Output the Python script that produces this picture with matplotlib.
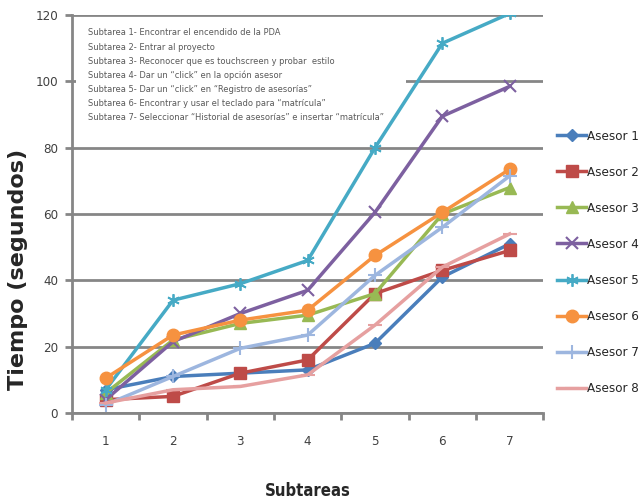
import matplotlib
matplotlib.use("Agg")
import matplotlib.pyplot as plt
from matplotlib.patches import Rectangle
from matplotlib import font_manager

categories = [1, 2, 3, 4, 5, 6, 7]
series_names = ["Asesor 1", "Asesor 2", "Asesor 3", "Asesor 4",
                "Asesor 5", "Asesor 6", "Asesor 7", "Asesor 8"]
asesor1 = [7, 11, 12, 13, 21, 41, 51]
asesor2 = [4, 5, 12, 16, 36, 43, 49]
asesor3 = [6, 22, 27, 29.5, 36, 60, 68]
asesor4 = [4, 21.5, 30, 37, 60.5, 89.5, 98.5]
asesor5 = [7, 34, 39, 46, 80, 111.5, 120.5]
asesor6 = [10.5, 23.5, 28, 31, 47.5, 60.5, 73.5]
asesor7 = [2.5, 11, 19.5, 23.5, 41.5, 56, 71.5]
asesor8 = [3, 7, 8, 11.5, 26.5, 44, 54]
notes = [
    "Subtarea 1- Encontrar el encendido de la PDA",
    "Subtarea 2- Entrar al proyecto",
    "Subtarea 3- Reconocer que es touchscreen y probar  estilo",
    "Subtarea 4- Dar un \u201cclick\u201d en la opción asesor",
    "Subtarea 5- Dar un \u201cclick\u201d en \u201cRegistro de asesorías\u201d",
    "Subtarea 6- Encontrar y usar el teclado para \u201cmatrícula\u201d",
    "Subtarea 7- Seleccionar \u201cHistorial de asesorías\u201d e insertar \u201cmatrícula\u201d",
]
y_ticks = [0, 20, 40, 60, 80, 100, 120]

all_series = [asesor1, asesor2, asesor3, asesor4, asesor5, asesor6, asesor7, asesor8]
colors = ["#4A7EBB", "#BE4B48", "#98B954", "#7D60A0", "#46AAC5", "#F69240", "#9DB6DF", "#E6A0A0"]
markers = ["D", "s", "^", "x", "*", "o", "+", "_"]
msizes = [6, 8, 8, 9, 9, 9, 10, 10]

cond = dict(family="DejaVu Sans", stretch="condensed")

fig = plt.figure(figsize=(6.43, 5.03), dpi=100)
ax = fig.add_axes([0.112, 0.179, 0.733, 0.791])

for vals, name, c, m, ms in zip(all_series, series_names, colors, markers, msizes):
    if m == "*":
        ax.plot(categories, vals, color=c, lw=2.5, marker=(6, 2, 0), ms=ms, mew=1.3,
                label=name, zorder=3)
    else:
        ax.plot(categories, vals, color=c, lw=2.5, marker=m, ms=ms, mew=1.5 if m in "x+_" else 1,
                mfc=c, mec=c, label=name, zorder=3)

ax.set_xlim(0.5, 7.5)
ax.set_ylim(0, 120)
ax.set_yticks(y_ticks)
ax.set_yticklabels([str(v) for v in y_ticks], fontsize=9.5, color="#404040", **cond)
ax.set_xticks([i + 0.5 for i in range(0, 8)])
ax.set_xticklabels([])
ax.set_xticks(categories, minor=True)
ax.set_xticklabels([str(c) for c in categories], minor=True, fontsize=9.5,
                   color="#404040", **cond)
ax.tick_params(axis="x", which="minor", length=0, pad=16)
ax.tick_params(axis="x", which="major", length=5, width=2, color="#868686", direction="out")
ax.tick_params(axis="y", length=5, width=2, color="#868686", direction="out", pad=5)

ax.grid(axis="y", color="#868686", lw=2)
ax.set_axisbelow(True)
for s in ["top", "right"]:
    ax.spines[s].set_visible(False)
for s in ["left", "bottom"]:
    ax.spines[s].set_color("#868686")
    ax.spines[s].set_linewidth(2)

ax.set_ylabel("Tiempo (segundos)", fontsize=16, fontweight="bold", color="#262626")
ax.yaxis.set_label_coords(-0.093, 0.36)
ax.set_xlabel("Subtareas", fontsize=12, fontweight="bold", color="#262626",
              labelpad=24, **cond)

ax.add_patch(Rectangle((0.008, 0.725), 0.70, 0.26, transform=ax.transAxes,
                       facecolor="white", edgecolor="none", zorder=2))
for i, t in enumerate(notes):
    ax.text(0.034, 0.955 - i * 0.0355, t, transform=ax.transAxes, fontsize=6.65,
            color="#595959", va="center", ha="left", zorder=4, **cond)

leg = ax.legend(loc="upper left", bbox_to_anchor=(1.018, 0.725), frameon=False,
                prop=font_manager.FontProperties(family="DejaVu Sans", stretch="condensed", size=9.5),
                labelspacing=1.75, handlelength=2.2, handletextpad=0.1,
                borderaxespad=0)
for t in leg.get_texts():
    t.set_color("#262626")

fig.savefig("out.png", dpi=100)
